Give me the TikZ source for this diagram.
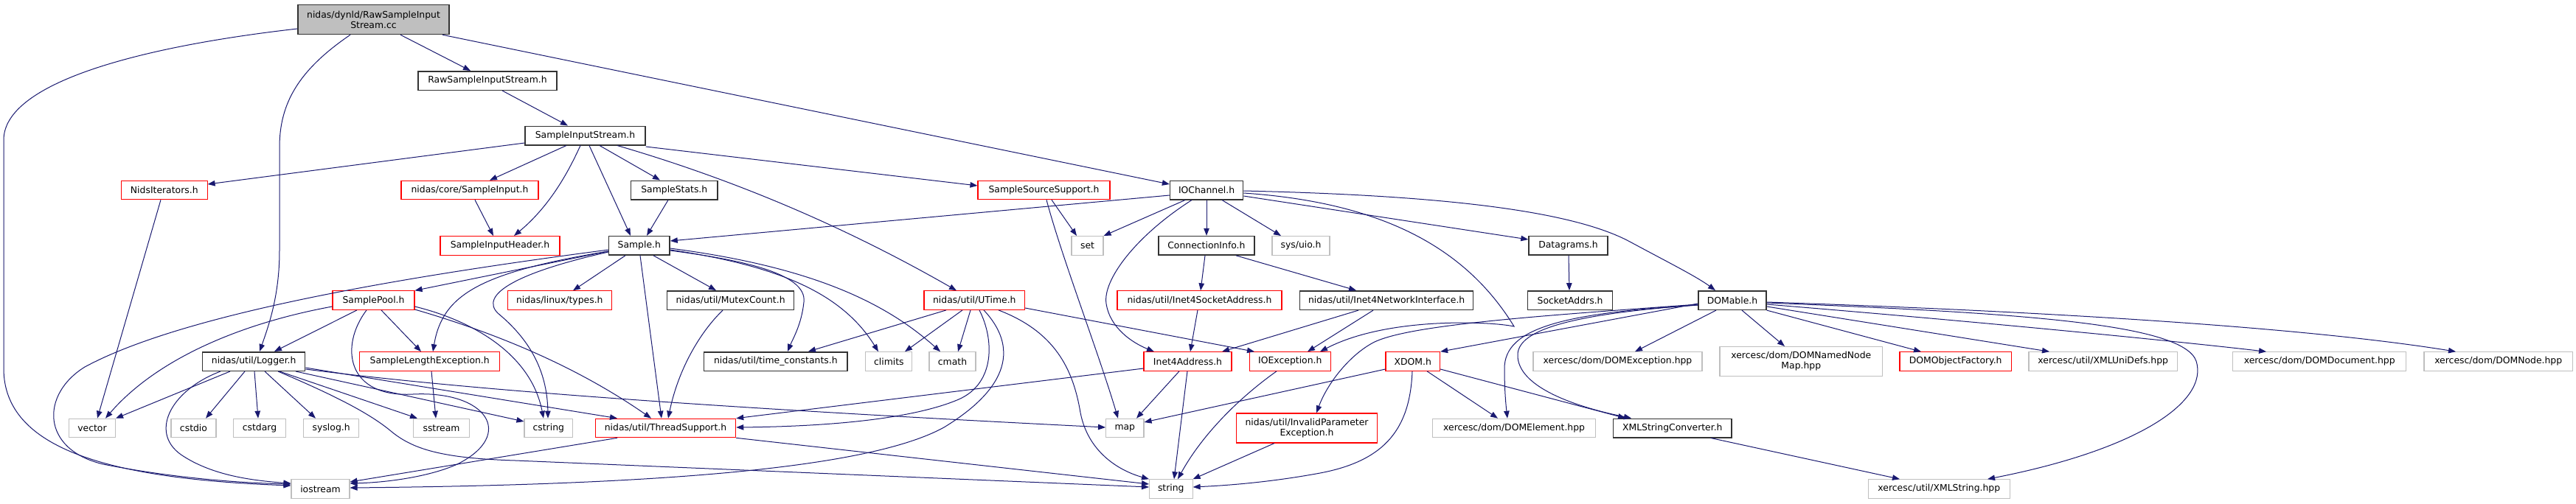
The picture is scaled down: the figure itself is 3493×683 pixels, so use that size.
\documentclass[tikz,border=0pt]{standalone}
\usepackage{fontspec}
\setmainfont{DejaVu Sans}
\usetikzlibrary{arrows.meta}
\definecolor{edgec}{HTML}{191970}
\definecolor{greyb}{HTML}{BFBFBF}
\definecolor{redb}{HTML}{FF0000}
\definecolor{blackb}{HTML}{333333}
\begin{document}
\begin{tikzpicture}[x=1pt,y=-1pt,
  nd/.style={rectangle, inner sep=0pt, align=center, font=\fontsize{12.4}{14}\selectfont, line width=1.1pt, minimum height=25.5},
  sysn/.style={nd, draw=greyb},
  redn/.style={nd, draw=redb},
  blkn/.style={nd, draw=blackb, line width=1.5pt},
  rootn/.style={nd, draw=blackb, fill=greyb, line width=1.5pt},
  lnk/.style={draw=edgec, line width=1pt, -{Triangle[length=10pt,width=7.5pt]}},
]
\fill[white] (0,0) rectangle (3493,683);
\useasboundingbox (0,0) rectangle (3493,683);
% Row 0
\node[rootn, minimum width=205, minimum height=40] (root) at (506.5,26.5) {nidas/dynld/RawSampleInput\\Stream.cc};
% Row 1
\node[blkn, minimum width=188] (rsish) at (661,109.5) {RawSampleInputStream.h};
% Row 2
\node[blkn, minimum width=163] (sis) at (793.5,184) {SampleInputStream.h};
% Row 3
\node[redn, minimum width=116.5] (nids) at (222.8,258) {NidsIterators.h};
\node[redn, minimum width=186] (csi) at (637,258) {nidas/core/SampleInput.h};
\node[blkn, minimum width=117.5] (sstats) at (914.3,258) {SampleStats.h};
\node[redn, minimum width=179] (sss) at (1415.5,258) {SampleSourceSupport.h};
\node[blkn, minimum width=99] (ioch) at (1636.1,258) {IOChannel.h};
% Row 4
\node[redn, minimum width=162] (sih) at (678,333.3) {SampleInputHeader.h};
\node[blkn, minimum width=82.4] (sample) at (866.8,333.3) {Sample.h};
\node[sysn, minimum width=43] (set) at (1474.5,333.3) {set};
\node[blkn, minimum width=129.7] (conn) at (1635.9,333.3) {ConnectionInfo.h};
\node[sysn, minimum width=78] (uio) at (1764,333.3) {sys/uio.h};
\node[blkn, minimum width=107] (dgram) at (2126.5,333.3) {Datagrams.h};
% Row 5
\node[redn, minimum width=111] (pool) at (506.5,407.6) {SamplePool.h};
\node[redn, minimum width=140.5] (ltypes) at (758.8,407.6) {nidas/linux/types.h};
\node[blkn, minimum width=172] (mutex) at (990.6,407.6) {nidas/util/MutexCount.h};
\node[redn, minimum width=136.6] (utime) at (1321.3,407.6) {nidas/util/UTime.h};
\node[redn, minimum width=223] (i4sa) at (1626.5,407.6) {nidas/util/Inet4SocketAddress.h};
\node[blkn, minimum width=235] (i4ni) at (1880.2,407.6) {nidas/util/Inet4NetworkInterface.h};
\node[blkn, minimum width=115] (sockaddr) at (2129.1,407.6) {SocketAddrs.h};
\node[blkn, minimum width=92] (domable) at (2349,407.6) {DOMable.h};
% Row 6
\node[blkn, minimum width=139] (logger) at (344.2,490.5) {nidas/util/Logger.h};
\node[redn, minimum width=190] (sle) at (582.7,490.5) {SampleLengthException.h};
\node[blkn, minimum width=194.5] (tconst) at (1051.8,490.5) {nidas/util/time\_constants.h};
\node[sysn, minimum width=63] (climits) at (1205.3,490.5) {climits};
\node[sysn, minimum width=63] (cmath) at (1291.5,490.5) {cmath};
\node[redn, minimum width=119] (i4a) at (1610.5,490.5) {Inet4Address.h};
\node[redn, minimum width=109.5] (ioex) at (1749.3,490.5) {IOException.h};
\node[redn, minimum width=73.6] (xdom) at (1915.8,490.5) {XDOM.h};
\node[sysn, minimum width=229] (domex) at (2193.5,490.5) {xercesc/dom/DOMException.hpp};
\node[sysn, minimum width=220.6, minimum height=40] (dnnm) at (2442.3,490.5) {xercesc/dom/DOMNamedNode\\Map.hpp};
\node[redn, minimum width=151.4] (dof) at (2651.7,490.5) {DOMObjectFactory.h};
\node[sysn, minimum width=201.4] (xud) at (2851.7,490.5) {xercesc/util/XMLUniDefs.hpp};
\node[sysn, minimum width=235] (ddoc) at (3145.2,490.5) {xercesc/dom/DOMDocument.hpp};
\node[sysn, minimum width=201.4] (dnode) at (3387.7,490.5) {xercesc/dom/DOMNode.hpp};
% Row 7
\node[sysn, minimum width=63] (vector) at (125,581) {vector};
\node[sysn, minimum width=61] (cstdio) at (262.5,581) {cstdio};
\node[sysn, minimum width=71] (cstdarg) at (352,581) {cstdarg};
\node[sysn, minimum width=75.4] (syslog) at (449.2,581) {syslog.h};
\node[sysn, minimum width=75.3] (sstream) at (598.5,581) {sstream};
\node[sysn, minimum width=65.6] (cstring) at (743.8,581) {cstring};
\node[redn, minimum width=190.4] (tsup) at (902.5,581) {nidas/util/ThreadSupport.h};
\node[sysn, minimum width=51.4] (map) at (1525.3,581) {map};
\node[redn, minimum width=191, minimum height=40] (ipe) at (1772,581) {nidas/util/InvalidParameter\\Exception.h};
\node[sysn, minimum width=220.6] (domel) at (2053.1,581) {xercesc/dom/DOMElement.hpp};
\node[blkn, minimum width=160.5] (xsc) at (2267.8,581) {XMLStringConverter.h};
% Row 8
\node[sysn, minimum width=79] (iostream) at (434.5,663.5) {iostream};
\node[sysn, minimum width=58.5] (string) at (1587.8,663.5) {string};
\node[sysn, minimum width=191.5] (xmlstr) at (2629.3,663.5) {xercesc/util/XMLString.hpp};

% ---------- edges ----------
% root
\draw[lnk] (root.west |- 0,39) .. controls (200,62) and (5,110) .. (5,190) -- (5,500) .. controls (5,610) and (150,650) .. (iostream.west |- 0,659);
\draw[lnk] (root.south -| 475,0) .. controls (405,95) and (379,140) .. (379,200) -- (379,340) .. controls (379,400) and (365,440) .. (logger.north -| 352,0);
\draw[lnk] (root.south -| 543,0) -- (rsish.north -| 638,0);
\draw[lnk] (root.south -| 600,0) -- (ioch.west |- 0,250);
% RawSampleInputStream.h
\draw[lnk] (rsish.south -| 681,0) -- (sis.north -| 770,0);
% SampleInputStream.h
\draw[lnk] (sis.west |- 0,194) -- (nids.east |- 0,250);
\draw[lnk] (sis.south -| 768,0) -- (csi.north -| 664,0);
\draw[lnk] (sis.south -| 787,0) .. controls (770,235) and (745,280) .. (sih.north -| 697,0);
\draw[lnk] (sis.south -| 799,0) -- (sample.north -| 855,0);
\draw[lnk] (sis.south -| 813,0) -- (sstats.north -| 895,0);
\draw[lnk] (sis.south -| 837,0) .. controls (1000,245) and (1150,310) .. (utime.north -| 1297,0);
\draw[lnk] (sis.east |- 0,199) -- (sss.west |- 0,252);
% row 3 sources
\draw[lnk] (nids.south -| 218,0) -- (vector.north -| 132,0);
\draw[lnk] (csi.south -| 644,0) -- (sih.north -| 669,0);
\draw[lnk] (sstats.south -| 906,0) -- (sample.north -| 877,0);
\draw[lnk] (sss.south -| 1426,0) -- (set.north -| 1460,0);
\draw[lnk] (sss.south -| 1419,0) .. controls (1440,350) and (1490,480) .. (map.north -| 1516,0);
% IOChannel.h
\draw[lnk] (ioch.west |- 0,265) -- (sample.east |- 0,327);
\draw[lnk] (ioch.south -| 1607,0) -- (set.north east);
\draw[lnk] (ioch.south -| 1616,0) .. controls (1540,320) and (1495,380) .. (1500,412) .. controls (1505,445) and (1535,465) .. (i4a.north -| 1565,0);
\draw[lnk] (ioch.south -| 1636,0) -- (conn.north -| 1636,0);
\draw[lnk] (ioch.south -| 1657,0) -- (uio.north -| 1737,0);
\draw[lnk] (ioch.east |- 0,266) -- (dgram.west |- 0,325);
\draw[lnk] (ioch.east |- 0,259) .. controls (1950,265) and (2130,285) .. (2210,328) .. controls (2260,355) and (2300,375) .. (domable.north -| 2326,0);
\draw[lnk] (ioch.east |- 0,262) .. controls (1880,275) and (1990,340) .. (2053,443) .. controls (2020,436) and (1880,430) .. (ioex.north -| 1790,0);
% row 4 / 5 network
\draw[lnk] (conn.south -| 1634,0) -- (i4sa.north -| 1628,0);
\draw[lnk] (conn.south -| 1676,0) -- (i4ni.north -| 1839,0);
\draw[lnk] (dgram.south -| 2127,0) -- (sockaddr.north -| 2128,0);
\draw[lnk] (i4sa.south -| 1624,0) -- (i4a.north -| 1614,0);
\draw[lnk] (i4ni.south -| 1842,0) -- (i4a.north -| 1657,0);
\draw[lnk] (i4ni.south -| 1862,0) -- (ioex.north -| 1773,0);
\draw[lnk] (i4a.south -| 1599,0) -- (map.north -| 1541,0);
\draw[lnk] (i4a.south -| 1610,0) -- (string.north -| 1592,0);
\draw[lnk] (i4a.west |- 0,500) -- (tsup.north east);
\draw[lnk] (ioex.south -| 1731,0) .. controls (1680,540) and (1630,590) .. (string.north -| 1597,0);
\draw[lnk] (ipe.south -| 1728,0) -- (string.north east);
% XDOM.h
\draw[lnk] (xdom.west |- 0,501) -- (map.east |- 0,573);
\draw[lnk] (xdom.south -| 1915,0) .. controls (1912,580) and (1880,625) .. (1790,642) .. controls (1720,655) and (1660,659) .. (string.east |- 0,661);
\draw[lnk] (xdom.south -| 1935,0) -- (domel.north -| 2031,0);
\draw[lnk] (xdom.east |- 0,501) -- (xsc.north -| 2204,0);
% DOMable.h
\draw[lnk] (domable.west |- 0,412) -- (xdom.north east);
\draw[lnk] (domable.west |- 0,413) .. controls (2100,428) and (1910,440) .. (1862,465) .. controls (1830,482) and (1800,520) .. (ipe.north -| 1785,0);
\draw[lnk] (domable.west |- 0,414) .. controls (2120,425) and (2040,445) .. (2040,500) .. controls (2040,530) and (2042,550) .. (domel.north -| 2044,0);
\draw[lnk] (domable.west |- 0,414) .. controls (2100,428) and (2055,455) .. (2058,485) .. controls (2062,530) and (2150,555) .. (xsc.north -| 2212,0);
\draw[lnk] (domable.south -| 2327,0) -- (domex.north -| 2217,0);
\draw[lnk] (domable.south -| 2362,0) -- (dnnm.north -| 2420,0);
\draw[lnk] (domable.south east) -- (dof.north -| 2605,0);
\draw[lnk] (domable.east |- 0,416) -- (xud.north -| 2779,0);
\draw[lnk] (domable.east |- 0,413) .. controls (2700,438) and (2950,463) .. (ddoc.north -| 3073,0);
\draw[lnk] (domable.east |- 0,410) .. controls (2700,420) and (3100,440) .. (dnode.north -| 3330,0);
\draw[lnk] (domable.east |- 0,411) .. controls (2750,425) and (2960,440) .. (2978,490) .. controls (2995,545) and (2900,610) .. (xmlstr.north -| 2695,0);
\draw[lnk] (xsc.south -| 2320,0) -- (xmlstr.north -| 2576,0);
% Sample.h
\draw[lnk] (sample.west |- 0,341) -- (pool.north east);
\draw[lnk] (sample.west |- 0,341) .. controls (650,370) and (600,400) .. (sle.north -| 587,0);
\draw[lnk] (sample.west |- 0,342) .. controls (700,370) and (650,400) .. (675,425) .. controls (715,458) and (742,500) .. (cstring.north -| 743,0);
\draw[lnk] (sample.west |- 0,339) .. controls (550,375) and (250,425) .. (115,498) .. controls (55,535) and (55,610) .. (140,630) .. controls (250,652) and (350,656) .. (iostream.west |- 0,657);
\draw[lnk] (sample.south -| 848,0) -- (ltypes.north -| 777,0);
\draw[lnk] (sample.south -| 886,0) -- (mutex.north -| 971,0);
\draw[lnk] (sample.south -| 868,0) -- (tsup.north -| 897,0);
\draw[lnk] (sample.east |- 0,340) .. controls (1000,352) and (1095,370) .. (1090,410) .. controls (1087,440) and (1075,460) .. (tconst.north -| 1068,0);
\draw[lnk] (sample.east |- 0,339) .. controls (1050,360) and (1140,395) .. (climits.north -| 1191,0);
\draw[lnk] (sample.east |- 0,337) .. controls (1100,362) and (1200,410) .. (cmath.north -| 1275,0);
\draw[lnk] (mutex.south -| 980,0) .. controls (950,450) and (920,500) .. (tsup.north -| 906,0);
% SamplePool.h
\draw[lnk] (pool.south -| 484,0) -- (logger.north -| 372,0);
\draw[lnk] (pool.south -| 517,0) -- (sle.north -| 571,0);
\draw[lnk] (pool.west |- 0,416) .. controls (320,440) and (210,490) .. (vector.north -| 143,0);
\draw[lnk] (pool.east |- 0,416) .. controls (640,435) and (720,480) .. (cstring.north -| 737,0);
\draw[lnk] (pool.east |- 0,420) .. controls (700,460) and (800,510) .. (tsup.north -| 883,0);
\draw[lnk] (pool.south -| 497,0) .. controls (460,470) and (470,540) .. (560,535) .. controls (660,530) and (700,590) .. (620,630) .. controls (580,648) and (520,655) .. (iostream.east |- 0,656);
% Logger.h
\draw[lnk] (logger.south -| 312,0) -- (vector.north east);
\draw[lnk] (logger.south -| 299,0) .. controls (230,530) and (200,590) .. (250,620) .. controls (290,645) and (340,652) .. (iostream.west |- 0,656);
\draw[lnk] (logger.south -| 332,0) -- (cstdio.north -| 279,0);
\draw[lnk] (logger.south -| 345,0) -- (cstdarg.north -| 350,0);
\draw[lnk] (logger.south -| 359,0) -- (syslog.north -| 428,0);
\draw[lnk] (logger.south -| 379,0) -- (sstream.north -| 566,0);
\draw[lnk] (logger.south -| 377,0) .. controls (450,535) and (500,560) .. (530,585) .. controls (560,610) and (600,622) .. (699,625) -- (string.west |- 0,661);
\draw[lnk] (logger.south -| 401,0) -- (cstring.west |- 0,572);
\draw[lnk] (logger.east |- 0,499) -- (tsup.north -| 837,0);
\draw[lnk] (logger.east |- 0,501) .. controls (600,525) and (900,550) .. (map.west |- 0,580);
\draw[lnk] (sle.south -| 585,0) -- (sstream.north -| 591,0);
% ThreadSupport.h
\draw[lnk] (tsup.south -| 837,0) -- (iostream.east |- 0,654);
\draw[lnk] (tsup.south east) -- (string.west |- 0,657);
% UTime.h
\draw[lnk] (utime.south -| 1283,0) -- (tconst.north -| 1096,0);
\draw[lnk] (utime.south -| 1305,0) -- (climits.north -| 1227,0);
\draw[lnk] (utime.south -| 1316,0) -- (cmath.north -| 1299,0);
\draw[lnk] (utime.south -| 1328,0) .. controls (1348,460) and (1350,520) .. (1300,542) .. controls (1230,572) and (1100,579) .. (tsup.east |- 0,580);
\draw[lnk] (utime.south -| 1334,0) .. controls (1380,470) and (1370,525) .. (1280,580) .. controls (1180,635) and (900,658) .. (iostream.east |- 0,662);
\draw[lnk] (utime.south -| 1354,0) .. controls (1430,450) and (1455,500) .. (1465,560) .. controls (1475,612) and (1515,638) .. (string.north west);
\draw[lnk] (utime.east |- 0,418) -- (ioex.north -| 1701,0);
\end{tikzpicture}
\end{document}
